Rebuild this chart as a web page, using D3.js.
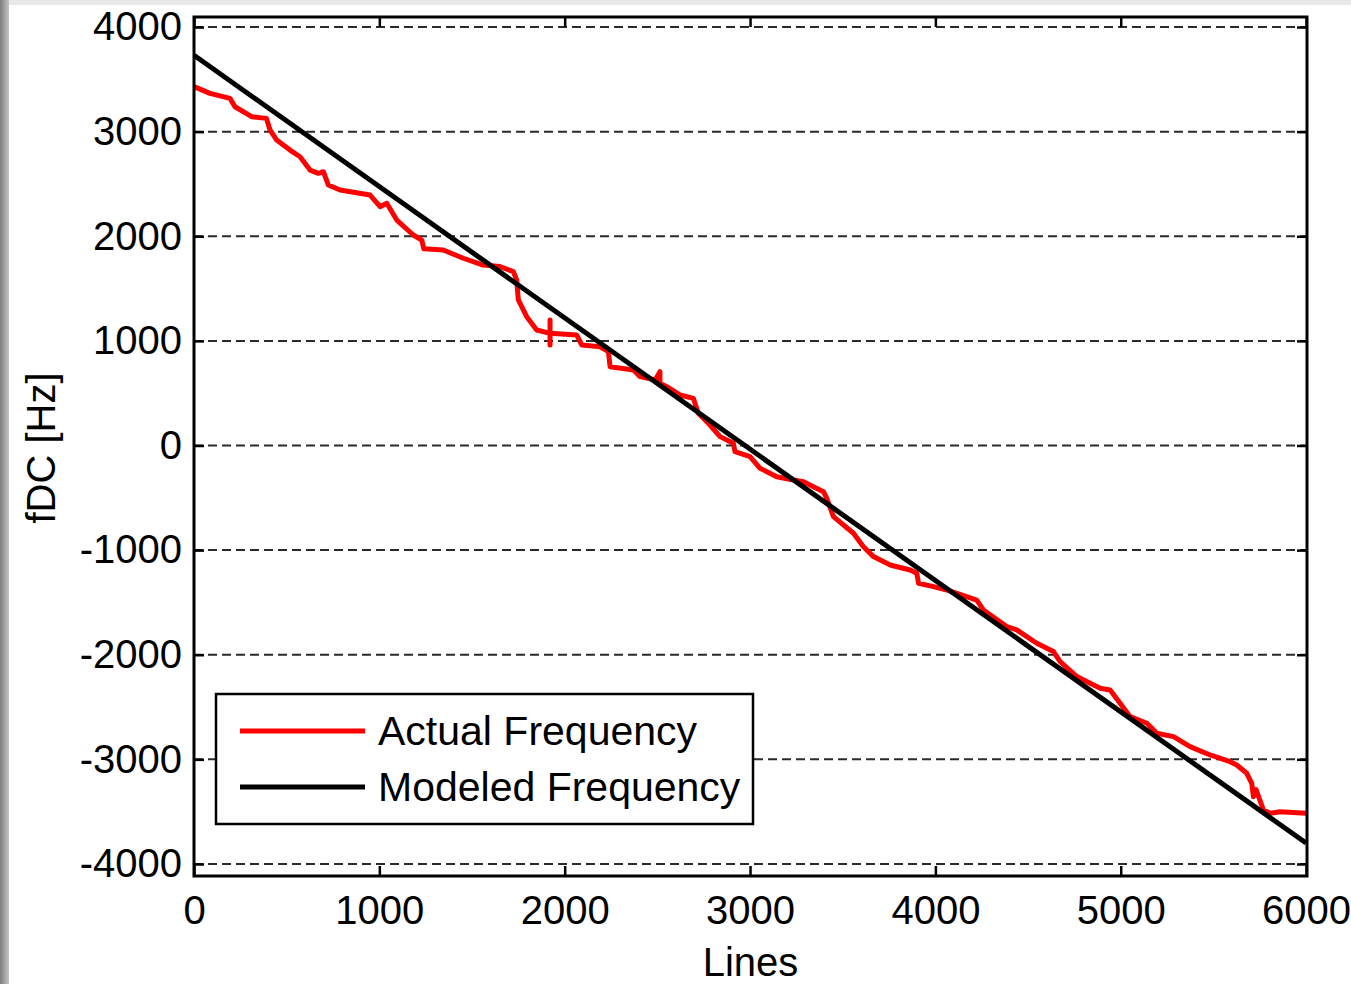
<!DOCTYPE html>
<html lang="en">
  <head>
    <meta charset="UTF-8" />
    <title>fDC vs Lines</title>
    <script src="https://cdn.jsdelivr.net/npm/d3@7"></script>
    <style>
      body { margin: 0; background: #fff; }
      text { font-family: "Liberation Sans", Arial, sans-serif; }
    </style>
  </head>
  <body>
    <script>
      // data
      var actualLines = [0, 86, 194, 221, 311, 391, 410, 446, 518, 572, 626, 671, 698, 725, 788, 950, 1004, 1040, 1094, 1183, 1229, 1240, 1345, 1453, 1560, 1651, 1723, 1741, 1750, 1795, 1849, 1921, 1921, 1921, 1921, 2065, 2092, 2191, 2236, 2245, 2371, 2407, 2488, 2514, 2514, 2551, 2622, 2694, 2721, 2784, 2838, 2910, 2919, 3000, 3054, 3144, 3234, 3288, 3396, 3414, 3450, 3558, 3612, 3666, 3756, 3864, 3900, 3909, 3990, 4061, 4223, 4259, 4385, 4439, 4547, 4637, 4673, 4763, 4889, 4943, 5051, 5141, 5195, 5285, 5374, 5482, 5590, 5626, 5680, 5707, 5716, 5730, 5770, 5806, 5860, 6000];
      var actualFreq = [3430, 3366, 3318, 3238, 3143, 3127, 3016, 2920, 2824, 2760, 2633, 2602, 2617, 2490, 2442, 2394, 2283, 2315, 2155, 2012, 1964, 1880, 1869, 1790, 1725, 1710, 1662, 1582, 1391, 1231, 1104, 1072, 1200, 961, 1072, 1056, 961, 944, 897, 753, 722, 658, 626, 706, 594, 562, 483, 451, 308, 196, 85, 21, -59, -106, -218, -298, -330, -346, -441, -505, -680, -839, -967, -1062, -1142, -1190, -1222, -1317, -1349, -1381, -1477, -1572, -1731, -1763, -1890, -1970, -2066, -2209, -2321, -2337, -2592, -2655, -2751, -2783, -2878, -2958, -3022, -3054, -3133, -3229, -3357, -3290, -3484, -3516, -3500, -3516];
      var modeledLines = [0, 6000];
      var modeledFreq = [3730, -3800];
      var xTicks = [0, 1000, 2000, 3000, 4000, 5000, 6000];
      var yTicks = [-4000, -3000, -2000, -1000, 0, 1000, 2000, 3000, 4000];
      var seriesNames = ["Actual Frequency", "Modeled Frequency"];
      var seriesColors = ["#ff0000", "#000000"];

      var W = 1351, H = 984;
      var boxL = 194, boxR = 1307, boxT = 17, boxB = 876;

      var svg = d3.select("body").append("svg")
        .attr("width", W)
        .attr("height", H);

      // slide frame: grey edge on the left and top
      var grad = svg.append("defs").append("linearGradient")
        .attr("id", "edge").attr("x1", "0%").attr("x2", "100%");
      grad.append("stop").attr("offset", "0%").attr("stop-color", "#7d7d7d");
      grad.append("stop").attr("offset", "100%").attr("stop-color", "#c4c4c4");
      svg.append("rect").attr("x", 0).attr("y", 0).attr("width", W).attr("height", 5).attr("fill", "#e8e8e8");
      svg.append("rect").attr("x", 0).attr("y", 0).attr("width", 9).attr("height", H).attr("fill", "url(#edge)");

      var x = d3.scaleLinear().domain([0, 6005]).range([boxL, boxR]);
      var y = d3.scaleLinear().domain([-4115, 4096]).range([boxB, boxT]);

      // dashed grid
      svg.append("g").selectAll("line").data(yTicks).enter()
        .append("line")
        .attr("x1", boxL).attr("x2", boxR)
        .attr("y1", function (d) { return y(d); })
        .attr("y2", function (d) { return y(d); })
        .attr("stroke", "#2a2a2a")
        .attr("stroke-width", 2)
        .attr("stroke-dasharray", "9,5");

      // axes
      function styleAxis(g) {
        g.select(".domain").remove();
        g.selectAll(".tick line").attr("stroke", "#000").attr("stroke-width", 2.5);
        g.selectAll(".tick text").attr("fill", "#000").attr("font-size", 40)
          .attr("font-family", "'Liberation Sans', Arial, sans-serif");
      }
      var fmt = function (d) { return String(d); };

      svg.append("g").attr("transform", "translate(" + boxL + ",0)")
        .call(d3.axisLeft(y).tickValues(yTicks).tickSize(-10).tickPadding(12).tickFormat(fmt))
        .call(styleAxis);
      svg.append("g").attr("transform", "translate(" + boxR + ",0)")
        .call(d3.axisRight(y).tickValues(yTicks).tickSize(-10).tickFormat(""))
        .call(styleAxis);
      svg.append("g").attr("transform", "translate(0," + boxB + ")")
        .call(d3.axisBottom(x).tickValues(xTicks).tickSize(-10).tickPadding(20).tickFormat(fmt))
        .call(styleAxis);
      svg.append("g").attr("transform", "translate(0," + boxT + ")")
        .call(d3.axisTop(x).tickValues(xTicks).tickSize(-10).tickFormat(""))
        .call(styleAxis);

      // lines
      var actual = actualLines.map(function (d, i) { return [d, actualFreq[i]]; });
      var modeled = modeledLines.map(function (d, i) { return [d, modeledFreq[i]]; });
      var line = d3.line()
        .x(function (d) { return x(d[0]); })
        .y(function (d) { return y(d[1]); });

      svg.append("path").datum(actual)
        .attr("d", line)
        .attr("fill", "none")
        .attr("stroke", seriesColors[0])
        .attr("stroke-width", 5)
        .attr("stroke-linejoin", "round");
      svg.append("path").datum(modeled)
        .attr("d", line)
        .attr("fill", "none")
        .attr("stroke", seriesColors[1])
        .attr("stroke-width", 5);

      // axis box
      svg.append("rect")
        .attr("x", boxL).attr("y", boxT)
        .attr("width", boxR - boxL).attr("height", boxB - boxT)
        .attr("fill", "none")
        .attr("stroke", "#000")
        .attr("stroke-width", 3);

      // axis titles
      svg.append("text")
        .attr("x", (boxL + boxR) / 2)
        .attr("y", 976)
        .attr("text-anchor", "middle")
        .attr("font-size", 40)
        .text("Lines");
      svg.append("text")
        .attr("transform", "translate(55,448) rotate(-90)")
        .attr("text-anchor", "middle")
        .attr("font-size", 40)
        .text("fDC [Hz]");

      // legend
      var legend = svg.append("g");
      legend.append("rect")
        .attr("x", 216).attr("y", 694)
        .attr("width", 537).attr("height", 130)
        .attr("fill", "#fff")
        .attr("stroke", "#000")
        .attr("stroke-width", 2.5);
      var item = legend.selectAll("g.item").data(seriesNames).enter()
        .append("g")
        .attr("transform", function (d, i) { return "translate(0," + (731 + i * 56) + ")"; });
      item.append("line")
        .attr("x1", 240).attr("x2", 365)
        .attr("stroke", function (d, i) { return seriesColors[i]; })
        .attr("stroke-width", 5);
      item.append("text")
        .attr("x", 378)
        .attr("y", 14)
        .attr("font-size", 41)
        .text(function (d) { return d; });
    </script>
  </body>
</html>
